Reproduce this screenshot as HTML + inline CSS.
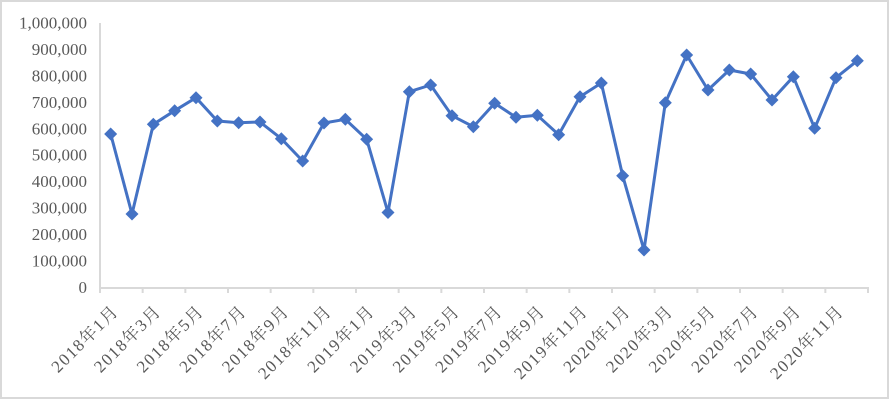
<!DOCTYPE html>
<html><head><meta charset="utf-8"><style>
html,body{margin:0;padding:0;background:#fff;}
svg{display:block;}
.yl{font-family:"Liberation Serif","Noto Serif CJK SC",serif;font-size:17px;fill:#595959;text-anchor:end;}
.xl{font-family:"Liberation Serif","Noto Serif CJK SC",serif;font-size:17px;fill:#595959;text-anchor:end;letter-spacing:1.5px;}
</style></head><body>
<svg width="890" height="400" viewBox="0 0 890 400" xmlns="http://www.w3.org/2000/svg">
<rect x="1" y="1" width="887" height="397" fill="#fff" stroke="#D9D9D9" stroke-width="2"/>
<!-- y labels -->
<text class="yl" x="87" y="293">0</text>
<text class="yl" x="87" y="266.5">100,000</text>
<text class="yl" x="87" y="240.1">200,000</text>
<text class="yl" x="87" y="213.6">300,000</text>
<text class="yl" x="87" y="187.2">400,000</text>
<text class="yl" x="87" y="160.7">500,000</text>
<text class="yl" x="87" y="134.3">600,000</text>
<text class="yl" x="87" y="107.8">700,000</text>
<text class="yl" x="87" y="81.4">800,000</text>
<text class="yl" x="87" y="54.9">900,000</text>
<text class="yl" x="87" y="28.5">1,000,000</text>
<!-- axes -->
<line x1="100" y1="23" x2="100" y2="288" stroke="#D9D9D9" stroke-width="2"/>
<line x1="99" y1="288" x2="869" y2="288" stroke="#D9D9D9" stroke-width="2"/>
<g stroke="#D9D9D9" stroke-width="2">
<line x1="100" y1="288" x2="100" y2="293"/><line x1="142.67" y1="288" x2="142.67" y2="293"/><line x1="185.33" y1="288" x2="185.33" y2="293"/><line x1="228" y1="288" x2="228" y2="293"/><line x1="270.67" y1="288" x2="270.67" y2="293"/><line x1="313.33" y1="288" x2="313.33" y2="293"/><line x1="356" y1="288" x2="356" y2="293"/><line x1="398.67" y1="288" x2="398.67" y2="293"/><line x1="441.33" y1="288" x2="441.33" y2="293"/><line x1="484" y1="288" x2="484" y2="293"/><line x1="526.67" y1="288" x2="526.67" y2="293"/><line x1="569.33" y1="288" x2="569.33" y2="293"/><line x1="612" y1="288" x2="612" y2="293"/><line x1="654.67" y1="288" x2="654.67" y2="293"/><line x1="697.33" y1="288" x2="697.33" y2="293"/><line x1="740" y1="288" x2="740" y2="293"/><line x1="782.67" y1="288" x2="782.67" y2="293"/><line x1="825.33" y1="288" x2="825.33" y2="293"/><line x1="868" y1="288" x2="868" y2="293"/>
</g>
<!-- x labels -->
<text class="xl" transform="translate(119.7,312) rotate(-45)">2018年1月</text>
<text class="xl" transform="translate(162.3,312) rotate(-45)">2018年3月</text>
<text class="xl" transform="translate(205,312) rotate(-45)">2018年5月</text>
<text class="xl" transform="translate(247.7,312) rotate(-45)">2018年7月</text>
<text class="xl" transform="translate(290.3,312) rotate(-45)">2018年9月</text>
<text class="xl" transform="translate(333,312) rotate(-45)">2018年11月</text>
<text class="xl" transform="translate(375.7,312) rotate(-45)">2019年1月</text>
<text class="xl" transform="translate(418.3,312) rotate(-45)">2019年3月</text>
<text class="xl" transform="translate(461,312) rotate(-45)">2019年5月</text>
<text class="xl" transform="translate(503.7,312) rotate(-45)">2019年7月</text>
<text class="xl" transform="translate(546.3,312) rotate(-45)">2019年9月</text>
<text class="xl" transform="translate(589,312) rotate(-45)">2019年11月</text>
<text class="xl" transform="translate(631.7,312) rotate(-45)">2020年1月</text>
<text class="xl" transform="translate(674.3,312) rotate(-45)">2020年3月</text>
<text class="xl" transform="translate(717,312) rotate(-45)">2020年5月</text>
<text class="xl" transform="translate(759.7,312) rotate(-45)">2020年7月</text>
<text class="xl" transform="translate(802.3,312) rotate(-45)">2020年9月</text>
<text class="xl" transform="translate(845,312) rotate(-45)">2020年11月</text>
<!-- series -->
<polyline fill="none" stroke="#4472C4" stroke-width="3" stroke-linejoin="round" points="110.67,134 132,214 153.33,124.3 174.67,110.7 196,97.7 217.33,121 238.67,122.7 260,122 281.33,138.7 302.67,161 324,123 345.33,119.3 366.67,139.3 388,212.5 409.33,91.7 430.67,85 452,115.7 473.33,126.7 494.67,103.3 516,117.3 537.33,115.3 558.67,134.7 580,96.7 601.33,83 622.67,175.7 644,250 665.33,102.7 686.67,55 708,90 729.33,70 750.67,74 772,100 793.33,76.7 814.67,128.3 836,77.7 857.33,60.7"/>
<g fill="#4472C4">
<path d="M110.67,127.5l6.5,6.5l-6.5,6.5l-6.5,-6.5z"/>
<path d="M132,207.5l6.5,6.5l-6.5,6.5l-6.5,-6.5z"/>
<path d="M153.33,117.8l6.5,6.5l-6.5,6.5l-6.5,-6.5z"/>
<path d="M174.67,104.2l6.5,6.5l-6.5,6.5l-6.5,-6.5z"/>
<path d="M196,91.2l6.5,6.5l-6.5,6.5l-6.5,-6.5z"/>
<path d="M217.33,114.5l6.5,6.5l-6.5,6.5l-6.5,-6.5z"/>
<path d="M238.67,116.2l6.5,6.5l-6.5,6.5l-6.5,-6.5z"/>
<path d="M260,115.5l6.5,6.5l-6.5,6.5l-6.5,-6.5z"/>
<path d="M281.33,132.2l6.5,6.5l-6.5,6.5l-6.5,-6.5z"/>
<path d="M302.67,154.5l6.5,6.5l-6.5,6.5l-6.5,-6.5z"/>
<path d="M324,116.5l6.5,6.5l-6.5,6.5l-6.5,-6.5z"/>
<path d="M345.33,112.8l6.5,6.5l-6.5,6.5l-6.5,-6.5z"/>
<path d="M366.67,132.8l6.5,6.5l-6.5,6.5l-6.5,-6.5z"/>
<path d="M388,206l6.5,6.5l-6.5,6.5l-6.5,-6.5z"/>
<path d="M409.33,85.2l6.5,6.5l-6.5,6.5l-6.5,-6.5z"/>
<path d="M430.67,78.5l6.5,6.5l-6.5,6.5l-6.5,-6.5z"/>
<path d="M452,109.2l6.5,6.5l-6.5,6.5l-6.5,-6.5z"/>
<path d="M473.33,120.2l6.5,6.5l-6.5,6.5l-6.5,-6.5z"/>
<path d="M494.67,96.8l6.5,6.5l-6.5,6.5l-6.5,-6.5z"/>
<path d="M516,110.8l6.5,6.5l-6.5,6.5l-6.5,-6.5z"/>
<path d="M537.33,108.8l6.5,6.5l-6.5,6.5l-6.5,-6.5z"/>
<path d="M558.67,128.2l6.5,6.5l-6.5,6.5l-6.5,-6.5z"/>
<path d="M580,90.2l6.5,6.5l-6.5,6.5l-6.5,-6.5z"/>
<path d="M601.33,76.5l6.5,6.5l-6.5,6.5l-6.5,-6.5z"/>
<path d="M622.67,169.2l6.5,6.5l-6.5,6.5l-6.5,-6.5z"/>
<path d="M644,243.5l6.5,6.5l-6.5,6.5l-6.5,-6.5z"/>
<path d="M665.33,96.2l6.5,6.5l-6.5,6.5l-6.5,-6.5z"/>
<path d="M686.67,48.5l6.5,6.5l-6.5,6.5l-6.5,-6.5z"/>
<path d="M708,83.5l6.5,6.5l-6.5,6.5l-6.5,-6.5z"/>
<path d="M729.33,63.5l6.5,6.5l-6.5,6.5l-6.5,-6.5z"/>
<path d="M750.67,67.5l6.5,6.5l-6.5,6.5l-6.5,-6.5z"/>
<path d="M772,93.5l6.5,6.5l-6.5,6.5l-6.5,-6.5z"/>
<path d="M793.33,70.2l6.5,6.5l-6.5,6.5l-6.5,-6.5z"/>
<path d="M814.67,121.8l6.5,6.5l-6.5,6.5l-6.5,-6.5z"/>
<path d="M836,71.2l6.5,6.5l-6.5,6.5l-6.5,-6.5z"/>
<path d="M857.33,54.2l6.5,6.5l-6.5,6.5l-6.5,-6.5z"/>
</g>
</svg>
</body></html>
